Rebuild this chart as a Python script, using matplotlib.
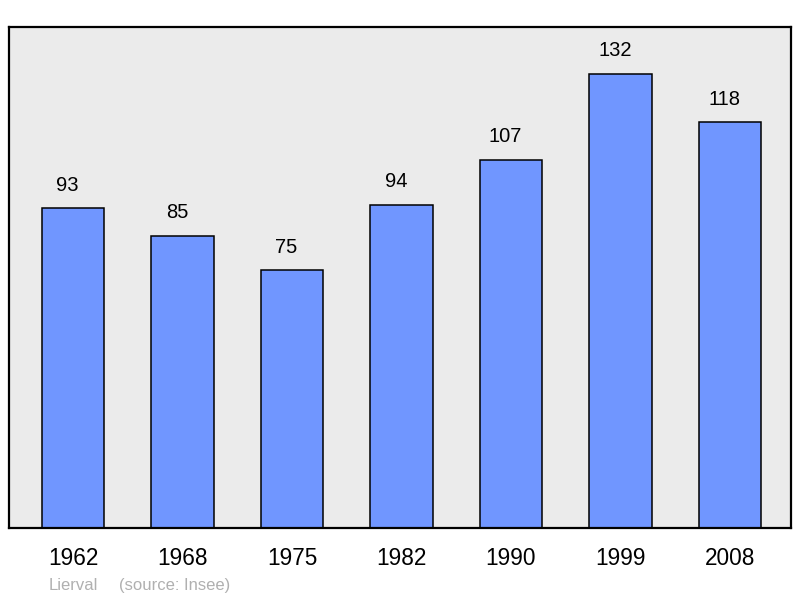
import matplotlib
matplotlib.use("Agg")
import matplotlib.pyplot as plt

plt.rcParams["font.family"] = ["Liberation Sans", "DejaVu Sans"]

years = ["1962", "1968", "1975", "1982", "1990", "1999", "2008"]
population = [93, 85, 75, 94, 107, 132, 118]
commune = "Lierval"
source = "(source: Insee)"

fig = plt.figure(figsize=(8, 5.98), dpi=100)
ax = fig.add_axes([9 / 800, 70 / 598, 782 / 800, 501 / 598])
ax.set_facecolor("#ebebeb")

x = list(range(len(years)))
bars = ax.bar(x, population, width=0.57, color="#7096ff",
              edgecolor="black", linewidth=1.1, zorder=2)

# value labels sit a little left of the bar centre, like the original
for xi, v in zip(x, population):
    ax.annotate(str(v), (xi, v), xytext=(-4, 12.5), textcoords="offset points",
                ha="center", va="baseline", fontsize=14.5)

ax.set_xlim(-0.584, 6.557)
ax.set_ylim(0, 145.6)
ax.set_xticks(x)
ax.set_xticklabels(years, fontsize=16.3)
ax.tick_params(axis="x", length=0, pad=14)
ax.set_yticks([])
for s in ax.spines.values():
    s.set_linewidth(1.6)
    s.set_color("black")

fig.text(49 / 800, 8 / 598, commune, color="#b0b0b0", fontsize=12,
         va="baseline", ha="left")
fig.text(119 / 800, 8 / 598, source, color="#b0b0b0", fontsize=12,
         va="baseline", ha="left")

fig.savefig("out.png", dpi=100)
